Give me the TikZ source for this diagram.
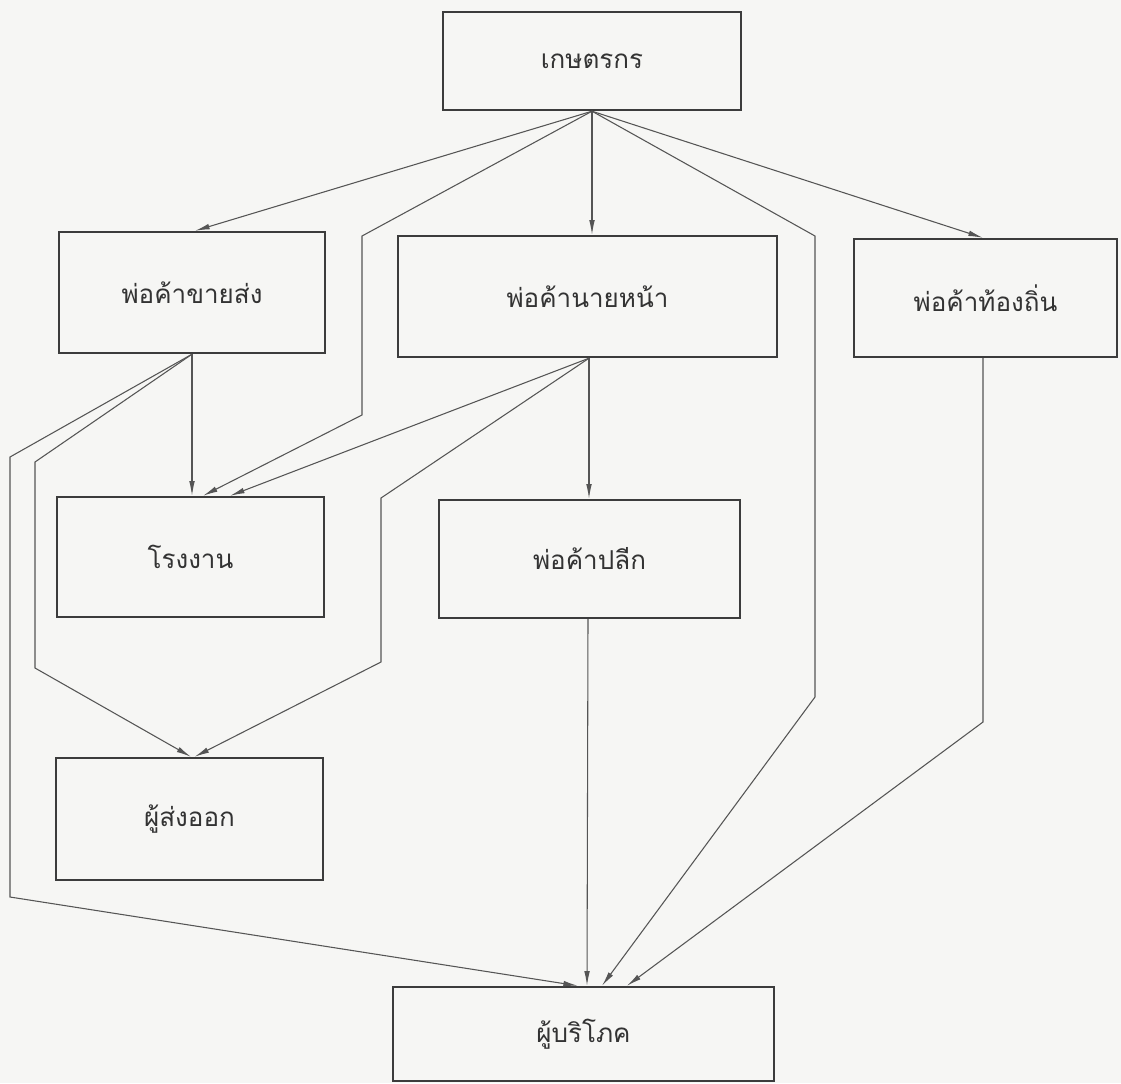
\documentclass[tikz,border=0pt]{standalone}
\usepackage{fontspec}
\newfontfamily\thaifont[Script=Thai]{Loma}
\usetikzlibrary{arrows.meta,calc}
\definecolor{bg}{HTML}{F6F6F4}
\definecolor{boxline}{HTML}{3C3C3C}
\definecolor{conn}{HTML}{555555}
\definecolor{txt}{HTML}{333333}
\begin{document}
\begin{tikzpicture}[x=0.75pt,y=-0.75pt,
  box/.style={draw=boxline,line width=1.8pt,rectangle,inner sep=0pt,font=\thaifont\fontsize{19.5}{22}\selectfont,text=txt},
  conn/.style={draw=conn,line width=0.8pt,-{Latex[length=11pt,width=4.2pt]}},
  line/.style={draw=conn,line width=0.8pt}]
\fill[bg] (0,0) rectangle (1121,1083);
\useasboundingbox (0,0) rectangle (1121,1083);
% boxes
\node[box,minimum width=223.5pt,minimum height=73.5pt] (kaset) at (592,61) {เกษตรกร};
\node[box,minimum width=199.5pt,minimum height=90.75pt] (whole) at (192,292.5) {พ่อค้าขายส่ง};
\node[box,minimum width=284.25pt,minimum height=90.75pt] (broker) at (587.5,296.5) {พ่อค้านายหน้า};
\node[box,minimum width=197.25pt,minimum height=88.5pt] (local) at (985.5,298) {พ่อค้าท้องถิ่น};
\node[box,minimum width=200.25pt,minimum height=90pt] (factory) at (190.5,557) {โรงงาน};
\node[box,minimum width=225.75pt,minimum height=88.5pt] (retail) at (589.5,559) {พ่อค้าปลีก};
\node[box,minimum width=200.25pt,minimum height=91.5pt] (export) at (189.5,819) {ผู้ส่งออก};
\node[box,minimum width=285.75pt,minimum height=70.5pt] (consumer) at (583.5,1034) {ผู้บริโภค};
% bend points
\coordinate (b2a) at (362,236);
\coordinate (b2b) at (362,415);
\coordinate (b4a) at (815,236);
\coordinate (b4b) at (815,697);
\coordinate (b7a) at (10,457);
\coordinate (b7b) at (10,897);
\coordinate (b8a) at (35,462);
\coordinate (b8b) at (35,668);
\coordinate (b11a) at (381,498);
\coordinate (b11b) at (381,662);
\coordinate (b13) at (983,722);
% from kaset
\draw[conn] (kaset.south) -- ($(whole.north)+(3,0)$);
\draw[conn] (kaset.south) -- (b2a) -- (b2b) -- ($(factory.north)+(12.5,0)$);
\draw[conn] (kaset.south) -- (kaset.south |- broker.north);
\draw[conn] (kaset.south) -- (b4a) -- (b4b) -- ($(consumer.north)+(18.5,0)$);
\draw[conn] (kaset.south) -- ($(local.north)+(-2.5,0)$);
% from wholesale
\draw[conn] (whole.south) -- (whole.south |- factory.north);
\draw[conn] (whole.south) -- (b7a) -- (b7b) -- ($(consumer.north)+(-5.5,0)$);
\draw[conn] (whole.south) -- (b8a) -- (b8b) -- ($(export.north)+(1.5,0)$);
% from broker
\draw[conn] ($(broker.south)+(1.5,0)$) -- ($(retail.north)+(-0.5,0)$);
\draw[conn] ($(broker.south)+(1.5,0)$) -- ($(factory.north)+(39.5,0)$);
\draw[conn] ($(broker.south)+(1.5,0)$) -- (b11a) -- (b11b) -- ($(export.north)+(5,0)$);
% to consumer
\draw[conn] ($(retail.south)+(-1.5,0)$) -- ($(consumer.north)+(3.5,0)$);
\draw[conn] ($(local.south)+(-2.5,0)$) -- (b13) -- ($(consumer.north)+(43.5,0)$);
\end{tikzpicture}
\end{document}
